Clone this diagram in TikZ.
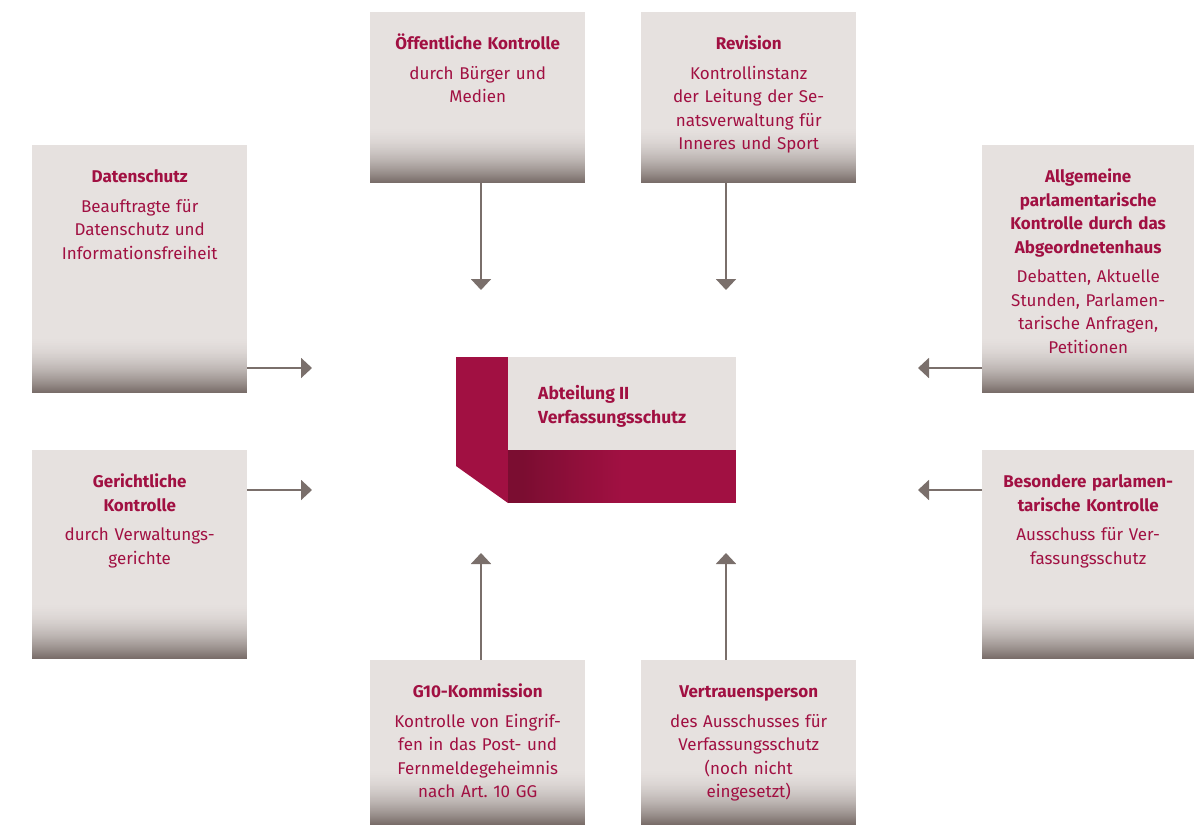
\documentclass[tikz,border=0pt]{standalone}
\usepackage{fontspec}
\setmainfont{Fira Sans}
\usetikzlibrary{arrows.meta}
\frenchspacing
\definecolor{boxbg}{HTML}{E6E1DF}
\definecolor{boxdark}{HTML}{746864}
\definecolor{pfeil}{HTML}{7A6F6B}
\definecolor{weinrot}{HTML}{A11042}
\definecolor{weinrotdunkel}{HTML}{7B0D31}
\tikzset{
  kasten/.style={fill=boxbg, inner sep=0pt, anchor=north west},
  kastentext/.style={anchor=north, text=weinrot, align=center, text width=212pt, inner sep=0pt,
    font=\fontsize{17}{23.5}\selectfont},
  pfeilstil/.style={draw=pfeil, line width=2pt, -{Triangle[width=20pt,length=11pt]}}
}
% dunkler Verlauf am unteren Rand eines Kastens, in Streifen
\newcommand{\schatten}[1]{%
  \foreach \i in {60,...,1} {
    \pgfmathtruncatemacro\p{100*((61-\i)/61)^2}
    \fill[boxdark!\p!boxbg] (#1.south west) rectangle ([yshift=\i pt]#1.south east);
  }}
\begin{document}
\begin{tikzpicture}[x=1pt,y=-1pt]
\useasboundingbox (0,0) rectangle (1194,825);
% Kaesten oben
\node[kasten, minimum width=215pt, minimum height=171pt] (oeff) at (370,12) {};
\node[kasten, minimum width=215pt, minimum height=171pt] (rev) at (641,12) {};
% Kaesten links
\node[kasten, minimum width=215pt, minimum height=248pt] (daten) at (32,145) {};
\node[kasten, minimum width=215pt, minimum height=209pt] (gericht) at (32,450) {};
% Kaesten rechts
\node[kasten, minimum width=212pt, minimum height=248pt] (allg) at (982,145) {};
\node[kasten, minimum width=212pt, minimum height=209pt] (bes) at (982,450) {};
% Kaesten unten
\node[kasten, minimum width=215pt, minimum height=165pt] (g10) at (370,660) {};
\node[kasten, minimum width=215pt, minimum height=165pt] (vertr) at (641,660) {};
\foreach \k in {oeff,rev,daten,gericht,allg,bes,g10,vertr} {\schatten{\k}}
% Texte
\node[kastentext] (oeffT) at ([yshift=-21pt]oeff.north) {\strut\textbf{Öffentliche Kontrolle}\\[6pt]durch Bürger und\\Medien};
\node[kastentext] (revT) at ([yshift=-21pt]rev.north) {\strut\textbf{Revision}\\[6pt]Kontrollinstanz\\der Leitung der Se-\\natsverwaltung für\\Inneres und Sport};
\node[kastentext] (datenT) at ([yshift=-21pt]daten.north) {\strut\textbf{Datenschutz}\\[6pt]Beauftragte für\\Datenschutz und\\Informationsfreiheit};
\node[kastentext] (gerichtT) at ([yshift=-21pt]gericht.north) {\strut\textbf{Gerichtliche\\Kontrolle}\\[6pt]durch Verwaltungs-\\gerichte};
\node[kastentext] (allgT) at ([yshift=-21pt]allg.north) {\strut\textbf{Allgemeine\\parlamentarische\\Kontrolle durch das\\Abgeordnetenhaus}\\[6pt]Debatten, Aktuelle\\Stunden, Parlamen-\\tarische Anfragen,\\Petitionen};
\node[kastentext] (besT) at ([yshift=-21pt]bes.north) {\strut\textbf{Besondere parlamen-\\tarische Kontrolle}\\[6pt]Ausschuss für Ver-\\fassungsschutz};
\node[kastentext] (g10T) at ([yshift=-21pt]g10.north) {\strut\textbf{G10-Kommission}\\[6pt]Kontrolle von Eingrif-\\fen in das Post- und\\Fernmeldegeheimnis\\nach Art. 10 GG};
\node[kastentext] (vertrT) at ([yshift=-21pt]vertr.north) {\strut\textbf{Vertrauensperson}\\[6pt]des Ausschusses für\\Verfassungsschutz\\(noch nicht\\eingesetzt)};
% Abteilung in der Mitte
\fill[weinrot] (456,357) -- (508,357) -- (508,503) -- (456,466) -- cycle;
\node[fill=boxbg, inner sep=0pt, anchor=north west, minimum width=228pt, minimum height=93pt] (abt) at (508,357) {};
\fill[weinrotdunkel] (507.5,450) rectangle (736,503);
\foreach \i in {0,...,100} {
  \fill[weinrot!\i!weinrotdunkel] (522+\i,450) rectangle (736,503);
}
\node[anchor=west, text=weinrot, align=left, inner sep=0pt, font=\fontsize{17.5}{24}\selectfont\bfseries] (abtT) at (538,406) {Abteilung II\\Verfassungsschutz};
% Pfeile
\coordinate (z1) at (481,290);
\coordinate (z2) at (726,290);
\coordinate (z3) at (312,368);
\coordinate (z4) at (312,490);
\coordinate (z5) at (918,368);
\coordinate (z6) at (918,490);
\coordinate (z7) at (481,553);
\coordinate (z8) at (726,553);
\draw[pfeilstil] (oeff.south -| z1) -- (z1);
\draw[pfeilstil] (rev.south -| z2) -- (z2);
\draw[pfeilstil] (daten.east |- z3) -- (z3);
\draw[pfeilstil] (gericht.east |- z4) -- (z4);
\draw[pfeilstil] (allg.west |- z5) -- (z5);
\draw[pfeilstil] (bes.west |- z6) -- (z6);
\draw[pfeilstil] (g10.north -| z7) -- (z7);
\draw[pfeilstil] (vertr.north -| z8) -- (z8);
\end{tikzpicture}
\end{document}
